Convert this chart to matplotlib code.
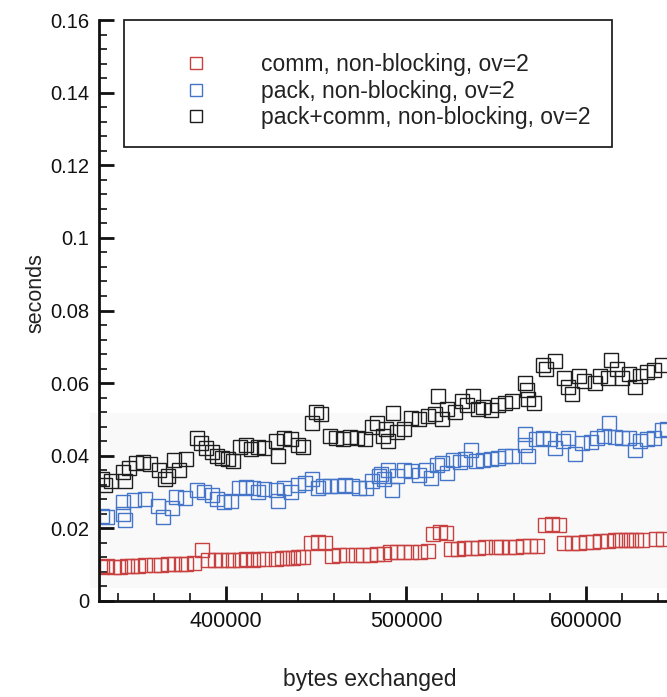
import matplotlib
matplotlib.use("Agg")
import matplotlib.pyplot as plt
from matplotlib.patches import Rectangle
from matplotlib.ticker import MultipleLocator, FuncFormatter

plt.rcParams['font.family'] = ['Liberation Sans', 'DejaVu Sans']

# comm, non-blocking, ov=2
comm_x = [331000, 334000, 338000, 341000, 345000, 348000, 351000, 355000, 360000, 364000,
          368000, 371000, 375000, 378000, 382000, 386500, 390000, 394000, 397000, 401000,
          404000, 408000, 411000, 415000, 418000, 421000, 428000, 431000, 434000, 437000,
          440000, 443000, 447000, 451000, 455000, 459000, 463000, 467000, 472000, 476000,
          480000, 484000, 488000, 491000, 495000, 499000, 503000, 508000, 512000, 515000,
          519000, 522000, 525000, 529000, 532000, 536000, 540000, 544000, 550000, 553000,
          557000, 561000, 565000, 569000, 573000, 577000, 581000, 585000, 588000, 592000,
          596000, 600000, 604000, 608000, 612000, 616000, 619000, 622000, 625000, 628000,
          631000, 639000, 643000]
comm_y = [0.0094, 0.0096, 0.0095, 0.0095, 0.0096, 0.0097, 0.0097, 0.0098, 0.0099, 0.0100,
          0.0101, 0.0102, 0.0103, 0.0103, 0.0104, 0.0140, 0.0112, 0.0113, 0.0113, 0.0114,
          0.0113, 0.0114, 0.0115, 0.0114, 0.0115, 0.0115, 0.0117, 0.0118, 0.0118, 0.0119,
          0.0120, 0.0120, 0.0160, 0.0162, 0.0160, 0.0125, 0.0126, 0.0127, 0.0127, 0.0128,
          0.0128, 0.0129, 0.0130, 0.0134, 0.0134, 0.0135, 0.0135, 0.0135, 0.0137, 0.0185,
          0.0190, 0.0187, 0.0143, 0.0144, 0.0145, 0.0146, 0.0147, 0.0148, 0.0148, 0.0149,
          0.0150, 0.0150, 0.0151, 0.0152, 0.0152, 0.0210, 0.0212, 0.0208, 0.0160, 0.0160,
          0.0161, 0.0162, 0.0163, 0.0165, 0.0166, 0.0167, 0.0168, 0.0168, 0.0168, 0.0169,
          0.0169, 0.0170, 0.0172]

# pack, non-blocking, ov=2
pack_x = [331000, 334000, 343000, 343000, 344000, 349000, 355000, 362000, 365000, 370000,
          372000, 377000, 384000, 388000, 392000, 395000, 399000, 403000, 407000, 411000,
          415000, 418000, 421000, 428000, 429000, 432000, 436000, 440000, 444000, 448000,
          451000, 454000, 458000, 462000, 466000, 470000, 474000, 478000, 481000, 485000,
          486000, 488000, 490000, 492000, 495000, 499000, 503000, 507000, 511000, 514000,
          517000, 520000, 523000, 526000, 530000, 533000, 536000, 539000, 543000, 547000,
          551000, 555000, 559000, 566000, 566000, 568000, 572000, 576000, 580000, 583000,
          587000, 590000, 594000, 598000, 603000, 606000, 610000, 613000, 616000, 620000,
          624000, 627000, 630000, 634000, 638000, 642000, 645000]
pack_y = [0.0235, 0.0230, 0.0274, 0.0240, 0.0222, 0.0278, 0.0280, 0.0262, 0.0232, 0.0255,
          0.0287, 0.0285, 0.0306, 0.0300, 0.0292, 0.0280, 0.0272, 0.0275, 0.0312, 0.0315,
          0.0310, 0.0300, 0.0308, 0.0306, 0.0276, 0.0310, 0.0300, 0.0320, 0.0325, 0.0335,
          0.0310, 0.0318, 0.0316, 0.0318, 0.0320, 0.0316, 0.0312, 0.0310, 0.0330, 0.0345,
          0.0350, 0.0335, 0.0360, 0.0305, 0.0345, 0.0360, 0.0358, 0.0348, 0.0362, 0.0340,
          0.0375, 0.0380, 0.0352, 0.0388, 0.0382, 0.0392, 0.0415, 0.0385, 0.0388, 0.0390,
          0.0395, 0.0400, 0.0398, 0.0460, 0.0430, 0.0400, 0.0445, 0.0450, 0.0447, 0.0420,
          0.0440, 0.0448, 0.0405, 0.0435, 0.0438, 0.0450, 0.0455, 0.0490, 0.0452, 0.0448,
          0.0450, 0.0415, 0.0440, 0.0445, 0.0448, 0.0470, 0.0475]

# pack+comm, non-blocking, ov=2
total_x = [331000, 333000, 336000, 343000, 344000, 346000, 350000, 354000, 358000, 363000,
           366000, 368000, 371000, 374000, 378000, 384000, 386000, 389000, 392000, 395000,
           398000, 401000, 404000, 408000, 411000, 414000, 418000, 421000, 428000, 429000,
           432000, 436000, 440000, 443000, 448000, 450000, 453000, 458000, 461000, 465000,
           469000, 473000, 477000, 481000, 484000, 487000, 489000, 490000, 493000, 495000,
           499000, 503000, 507000, 512000, 516000, 518000, 520000, 523000, 527000, 531000,
           534000, 537000, 540000, 543000, 547000, 551000, 555000, 559000, 566000, 567000,
           568000, 571000, 576000, 578000, 583000, 588000, 590000, 592000, 596000, 599000,
           605000, 608000, 612000, 614000, 617000, 620000, 624000, 627000, 630000, 634000,
           638000, 642000]
total_y = [0.0335, 0.0320, 0.0330, 0.0355, 0.0330, 0.0365, 0.0380, 0.0382, 0.0378, 0.0362,
           0.0335, 0.0345, 0.0388, 0.0360, 0.0392, 0.0450, 0.0435, 0.0420, 0.0410, 0.0400,
           0.0395, 0.0390, 0.0385, 0.0425, 0.0430, 0.0418, 0.0425, 0.0422, 0.0440, 0.0400,
           0.0450, 0.0445, 0.0430, 0.0425, 0.0490, 0.0520, 0.0515, 0.0455, 0.0450, 0.0445,
           0.0452, 0.0448, 0.0445, 0.0480, 0.0490, 0.0455, 0.0475, 0.0440, 0.0518, 0.0465,
           0.0475, 0.0505, 0.0500, 0.0510, 0.0515, 0.0565, 0.0500, 0.0530, 0.0520, 0.0550,
           0.0540, 0.0565, 0.0530, 0.0535, 0.0525, 0.0540, 0.0545, 0.0550, 0.0600, 0.0580,
           0.0555, 0.0545, 0.0650, 0.0640, 0.0660, 0.0615, 0.0590, 0.0570, 0.0620, 0.0605,
           0.0600, 0.0620, 0.0615, 0.0665, 0.0640, 0.0615, 0.0625, 0.0590, 0.0620, 0.0630,
           0.0635, 0.0650]

labels = ["comm, non-blocking, ov=2",
          "pack, non-blocking, ov=2",
          "pack+comm, non-blocking, ov=2"]
colors = ["#c8403f", "#4575c8", "#1e1e1e"]

fig = plt.figure(figsize=(6.67, 6.97), dpi=100)
ax = fig.add_axes([99 / 667, 96 / 697, 568 / 667, 581 / 697])

# faint tone behind the data band
ax.add_patch(Rectangle(((90 - 99) / 568, (601 - 588) / 581), 577 / 568, 175 / 581,
                       transform=ax.transAxes, facecolor="#f9f9f9",
                       edgecolor="none", zorder=0.5, clip_on=False))

handles = []
for xs, ys, c, lab in zip([comm_x, pack_x, total_x], [comm_y, pack_y, total_y], colors, labels):
    h, = ax.plot(xs, ys, linestyle="none", marker="s", markersize=9.5,
                 markerfacecolor="none", markeredgecolor=c, markeredgewidth=1.0,
                 label=lab, zorder=2)
    handles.append(h)

ax.set_xlim(329400, 645000)
ax.set_ylim(0, 0.16)

for s in ["top", "right"]:
    ax.spines[s].set_visible(False)
for s in ["left", "bottom"]:
    ax.spines[s].set_linewidth(2.0)
    ax.spines[s].set_color("#111111")
    ax.spines[s].set_zorder(3)

ax.xaxis.set_major_locator(MultipleLocator(100000))
ax.xaxis.set_minor_locator(MultipleLocator(20000))
ax.yaxis.set_major_locator(MultipleLocator(0.02))
ax.yaxis.set_minor_locator(MultipleLocator(0.004))
ax.xaxis.set_major_formatter(FuncFormatter(lambda v, p: f"{int(round(v))}"))
ax.yaxis.set_major_formatter(FuncFormatter(lambda v, p: f"{round(v, 4):g}"))

ax.tick_params(which="major", direction="in", length=11, width=2.0,
               labelsize=14.5, colors="#111111", pad=7)
ax.tick_params(axis="x", which="major", labelsize=15.5)
ax.tick_params(which="minor", direction="in", length=6, width=1.2, colors="#111111")

ax.set_xlabel("bytes exchanged", fontsize=16.5, color="#222222")
ax.xaxis.set_label_coords((370 - 99) / 568, (601 - 668) / 581)
ax.set_ylabel("seconds", fontsize=15.5, color="#222222")
ax.yaxis.set_label_coords((46 - 99) / 568, (601 - 293) / 581)
ax.yaxis.label.set_verticalalignment("bottom")

# legend box
ax.add_patch(Rectangle(((124 - 99) / 568, (601 - 147) / 581), (612 - 124) / 568, 127 / 581,
                       transform=ax.transAxes, facecolor="white", edgecolor="#222222",
                       linewidth=1.3, zorder=3, clip_on=False))
leg = ax.legend(handles=handles, loc="upper left",
                bbox_to_anchor=((134 - 99) / 568, (601 - 32) / 581),
                frameon=False, fontsize=16.5, handlelength=3.6, handletextpad=1.05,
                labelspacing=0.17, borderpad=0.9, borderaxespad=0.0, markerscale=0.85)
leg.set_zorder(4)
for t in leg.get_texts():
    t.set_color("#222222")

fig.savefig("out.png", dpi=100)
